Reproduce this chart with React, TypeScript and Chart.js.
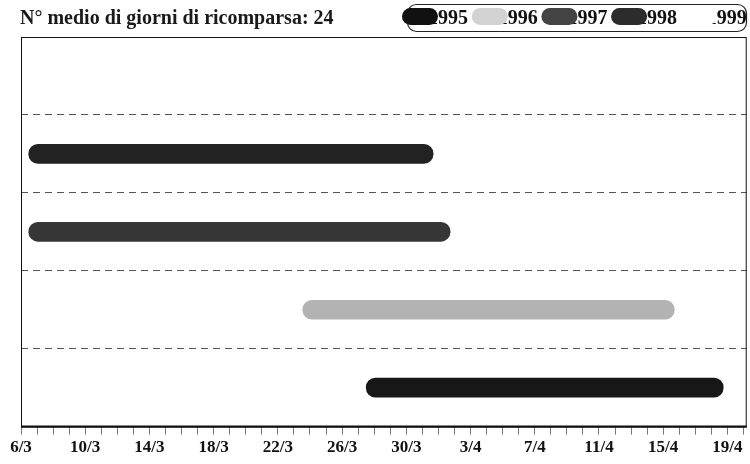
import React, { useEffect, useRef } from 'react';
import { Chart, registerables } from 'chart.js';

Chart.register(...registerables);

const FONT = '"Liberation Serif", "DejaVu Serif", serif';

// rows of the chart, top to bottom
const categories = ['1999', '1998', '1997', '1996', '1995'];
// legend / dataset order
const legendYears = ['1995', '1996', '1997', '1998', '1999'];
// reappearance period, in days after 6/3 (start, end) per year
const periodStart: (number | null)[] = [21.5, 17.55, 0.48, 0.48, null];
const periodEnd: (number | null)[] = [43.74, 40.69, 26.73, 25.67, null];
// axis tick labels, one every 4 days starting 6/3
const tickLabels = ['6/3', '10/3', '14/3', '18/3', '22/3', '26/3', '30/3', '3/4', '7/4', '11/4', '15/4', '19/4'];
const tickDays = [0, 1, 2, 3, 4, 5, 6, 7, 8, 9, 10, 11, 12, 13, 14, 15, 16, 17, 18, 19, 20, 21, 22, 23, 24, 25, 26, 27, 28, 29, 30, 31, 32, 33, 34, 35, 36, 37, 38, 39, 40, 41, 42, 43, 44, 45];
const axisMax = 45.2;
const titleText = 'N° medio di giorni di ricomparsa: 24';

const barColors = ['#171717', '#b3b3b3', '#363636', '#222222', '#ffffff'];
const legendColors = ['#111111', '#d2d2d2', '#434343', '#2c2c2c', '#ffffff'];

function roundRectPath(ctx: CanvasRenderingContext2D, x: number, y: number, w: number, h: number, r: number) {
  ctx.beginPath();
  ctx.moveTo(x + r, y);
  ctx.lineTo(x + w - r, y);
  ctx.arcTo(x + w, y, x + w, y + r, r);
  ctx.lineTo(x + w, y + h - r);
  ctx.arcTo(x + w, y + h, x + w - r, y + h, r);
  ctx.lineTo(x + r, y + h);
  ctx.arcTo(x, y + h, x, y + h - r, r);
  ctx.lineTo(x, y + r);
  ctx.arcTo(x, y, x + r, y, r);
  ctx.closePath();
}

const decorPlugin = {
  id: 'decor',
  afterDraw(chart: any) {
    const { ctx, chartArea: a } = chart;
    ctx.save();
    // plot frame
    ctx.strokeStyle = '#111';
    ctx.lineWidth = 1;
    ctx.strokeRect(a.left + 0.5, a.top + 0.5, a.right - a.left - 1, a.bottom - a.top);
    ctx.lineWidth = 2;
    ctx.beginPath();
    ctx.moveTo(a.left, a.bottom);
    ctx.lineTo(a.right, a.bottom);
    ctx.stroke();

    // title
    ctx.font = `bold 20px ${FONT}`;
    ctx.fillStyle = '#1a1a1a';
    ctx.textBaseline = 'alphabetic';
    ctx.textAlign = 'left';
    ctx.fillText(titleText, 20, 24);

    // legend box
    ctx.lineWidth = 1.2;
    ctx.strokeStyle = '#222';
    roundRectPath(ctx, 407.5, 4.5, 339, 27, 9);
    ctx.stroke();

    ctx.font = `bold 20px ${FONT}`;
    chart.data.datasets.forEach((ds: any, i: number) => {
      const bx = 402 + i * 69.7;
      ctx.fillStyle = '#111';
      ctx.fillText(ds.label, bx + 26, 24);
      ctx.fillStyle = legendColors[i];
      roundRectPath(ctx, bx, 8, 36, 17, 8.5);
      ctx.fill();
    });
    ctx.restore();
  },
};

export default function App() {
  const ref = useRef<HTMLCanvasElement | null>(null);

  useEffect(() => {
    if (!ref.current) return;
    const chart = new Chart(ref.current, {
      type: 'bar',
      data: {
        labels: categories,
        datasets: legendYears.map((year, i) => ({
          label: year,
          data: categories.map((c) =>
            c === year && periodStart[i] != null ? [periodStart[i] as number, periodEnd[i] as number] : null
          ),
          backgroundColor: barColors[i],
          barThickness: 19,
          borderRadius: 10,
          borderSkipped: false,
          grouped: false,
        })) as any,
      },
      options: {
        indexAxis: 'y',
        responsive: false,
        animation: false,
        devicePixelRatio: 1,
        layout: { padding: { left: 21, right: 3.3, top: 37, bottom: 3 } },
        plugins: {
          legend: { display: false },
          title: { display: false },
          tooltip: { enabled: false },
        },
        scales: {
          x: {
            type: 'linear',
            min: 0,
            max: axisMax,
            afterBuildTicks: (s: any) => {
              s.ticks = tickDays.map((v) => ({ value: v }));
            },
            ticks: {
              autoSkip: false,
              maxRotation: 0,
              padding: 3,
              color: '#111',
              font: { family: FONT, size: 17, weight: 'bold' },
              callback: (v: any) => (Number(v) % 4 === 0 ? tickLabels[Number(v) / 4] : ''),
            },
            grid: { drawOnChartArea: false, drawTicks: true, tickLength: 8, color: '#777', lineWidth: 1 },
            border: { display: false },
          },
          y: {
            type: 'category',
            offset: true,
            ticks: { display: false },
            grid: {
              offset: true,
              drawTicks: false,
              color: (c: any) => (c.index === 0 || c.index === categories.length ? 'rgba(0,0,0,0)' : '#555'),
              lineWidth: 1,
            },
            border: { display: false, dash: [7, 5] },
          },
        },
      } as any,
      plugins: [decorPlugin],
    });
    return () => chart.destroy();
  }, []);

  return (
    <div style={{ position: 'absolute', left: 0, top: 0, width: 750, height: 464, background: '#fff' }}>
      <canvas ref={ref} width={750} height={464} style={{ display: 'block' }} />
    </div>
  );
}
